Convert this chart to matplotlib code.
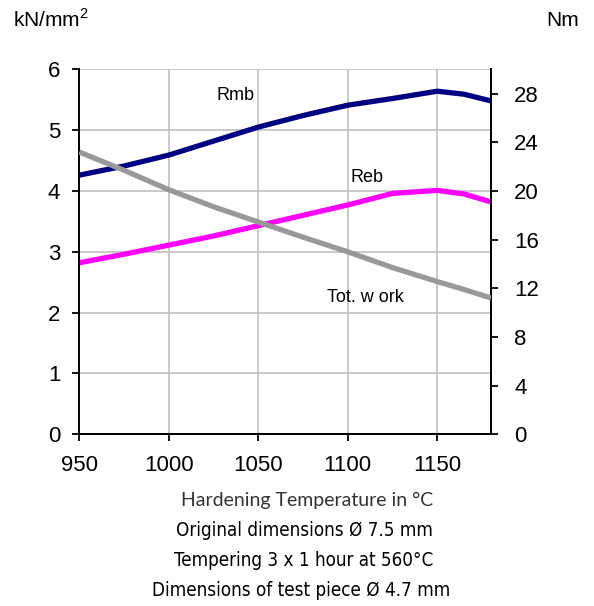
import matplotlib
matplotlib.use("Agg")
import matplotlib.pyplot as plt

temps = [950, 975, 1000, 1025, 1050, 1075, 1100, 1125, 1150, 1165, 1180]
rmb = [4.26, 4.41, 4.59, 4.82, 5.05, 5.24, 5.41, 5.52, 5.64, 5.59, 5.48]
reb = [2.82, 2.96, 3.11, 3.26, 3.43, 3.60, 3.77, 3.96, 4.01, 3.95, 3.82]
work = [23.2, 21.7, 20.1, 18.7, 17.45, 16.2, 15.0, 13.7, 12.55, 11.9, 11.2]

xticks = [950, 1000, 1050, 1100, 1150]
yticks_left = [0, 1, 2, 3, 4, 5, 6]
yticks_right = [0, 4, 8, 12, 16, 20, 24, 28]

plt.rcParams['font.family'] = ['Liberation Sans', 'DejaVu Sans']
plt.rcParams['mathtext.fontset'] = 'custom'
plt.rcParams['mathtext.rm'] = 'Liberation Sans'

fig = plt.figure(figsize=(5.94, 6.06), dpi=100)
ax = fig.add_axes([79.3/594, 1 - 434.3/606, (491 - 79.3)/594, (434.3 - 69.3)/606])
ax2 = ax.twinx()

ax.set_xlim(950, 1180)
ax.set_ylim(0, 6)
ax2.set_ylim(0, 30)

ax.set_xticks(xticks)
ax.set_yticks(yticks_left)
ax2.set_yticks(yticks_right)
ax.grid(True, color='#c0c0c0', linewidth=1.2)
ax.set_axisbelow(True)

ax.plot(temps, rmb, color='#000080', linewidth=3.8, solid_capstyle='butt', zorder=3)
ax.plot(temps, reb, color='#ff00ff', linewidth=3.8, solid_capstyle='butt', zorder=3)
ax2.plot(temps, work, color='#999999', linewidth=3.8, solid_capstyle='butt', zorder=3)

for a in (ax, ax2):
    for s in a.spines.values():
        s.set_linewidth(1.3)
    a.spines['top'].set_visible(False)

ax.tick_params(axis='x', labelsize=16, length=4.7, width=1.3, direction='out', pad=10)
ax.tick_params(axis='y', labelsize=16, length=4.7, width=1.3, direction='out', pad=9)
ax2.tick_params(axis='y', labelsize=16, length=4.7, width=1.3, direction='out', pad=12)

fig.text(217/594, 1 - 95/606, 'Rmb', fontsize=13, ha='left', va='center')
fig.text(351/594, 1 - 178/606, 'Reb', fontsize=13, ha='left', va='center')
fig.text(327/594, 1 - 297/606, 'Tot. w ork', fontsize=13, ha='left', va='center')

fig.text(13/594, 1 - 20/606, r'kN/mm$^{2}$', fontsize=15, ha='left', va='center')
fig.text(579/594, 1 - 20/606, 'Nm', fontsize=15, ha='right', va='center')

fig.text(307/594, 1 - 500/606, 'Hardening Temperature in °C', fontsize=14,
         ha='center', va='center', family=['Lato', 'DejaVu Sans'], color='#333333')
cond = dict(fontsize=13.5, ha='center', va='center', family=['DejaVu Sans'], fontstretch='condensed')
fig.text(304/594, 1 - 531/606, 'Original dimensions Ø 7.5 mm', **cond)
fig.text(304/594, 1 - 561/606, 'Tempering 3 x 1 hour at 560°C', **cond)
fig.text(301/594, 1 - 590/606, 'Dimensions of test piece Ø 4.7 mm', **cond)

fig.savefig('out.png', dpi=100)
